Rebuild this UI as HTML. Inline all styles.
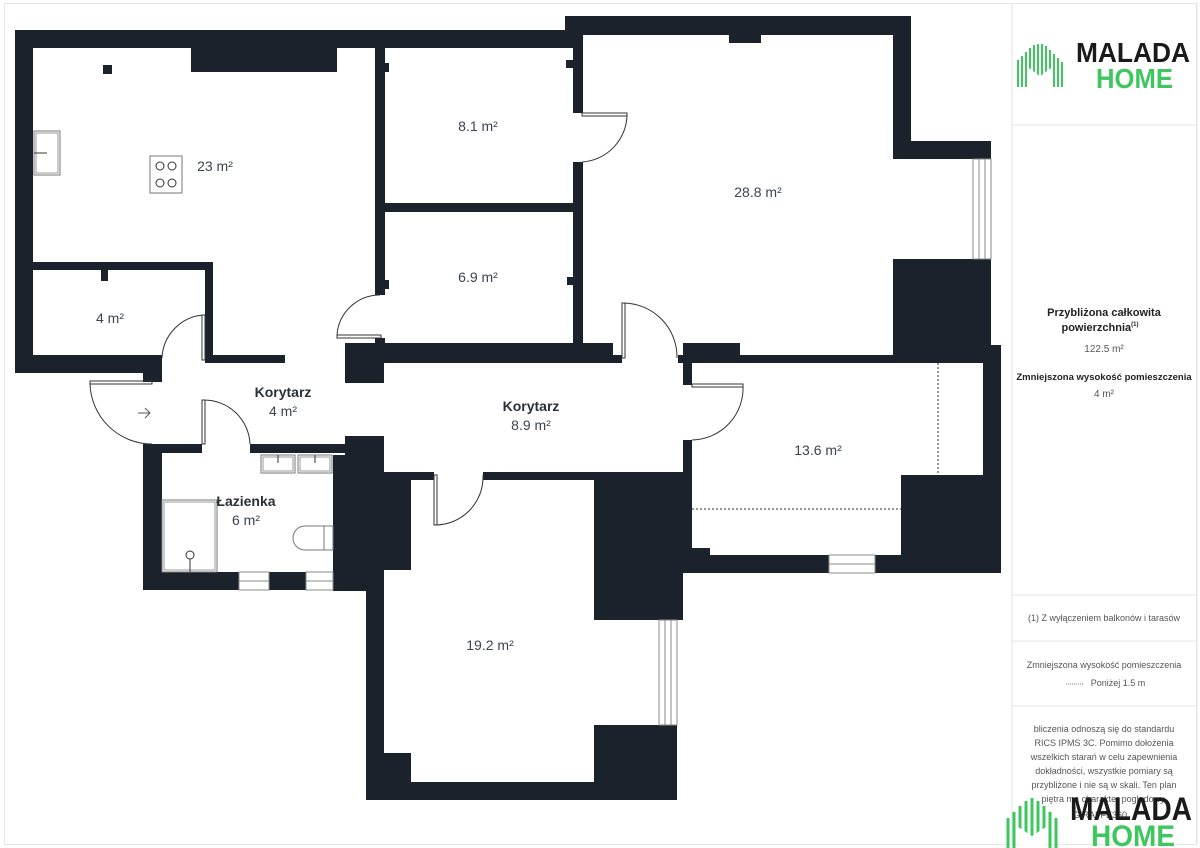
<!DOCTYPE html>
<html><head><meta charset="utf-8"><style>
body{margin:0;background:#fff;}
svg{display:block;}
text{font-family:"Liberation Sans",sans-serif;}
</style></head><body>
<svg width="1200" height="848" viewBox="0 0 1200 848" xmlns="http://www.w3.org/2000/svg">
<rect x="0" y="0" width="1200" height="848" fill="#fff"/>
<rect x="4.5" y="3.5" width="1192" height="841" fill="none" stroke="#e6e6e6"/>
<g fill="#1c222c">
<!-- kitchen -->
<rect x="15" y="30" width="565" height="18"/>
<rect x="15" y="30" width="18" height="343"/>
<rect x="15" y="355" width="147" height="18"/>
<rect x="143" y="355" width="19" height="27"/>
<rect x="191" y="48" width="146" height="24"/>
<rect x="103" y="65" width="9" height="9"/>
<rect x="15" y="262" width="198" height="8"/>
<rect x="205" y="262" width="8" height="101"/>
<rect x="205" y="355" width="80" height="8"/>
<rect x="101" y="270" width="7" height="11"/>
<!-- middle rooms -->
<rect x="375" y="48" width="10" height="247"/>
<rect x="385" y="63" width="4" height="9"/>
<rect x="385" y="280" width="4" height="9"/>
<rect x="375" y="203" width="207" height="9"/>
<rect x="565" y="16" width="346" height="19"/>
<rect x="565" y="16" width="18" height="32"/>
<rect x="573" y="48" width="10" height="65"/>
<rect x="566" y="60" width="8" height="8"/>
<rect x="573" y="162" width="10" height="183"/>
<rect x="567" y="277" width="7" height="8"/>
<rect x="729" y="35" width="32" height="8"/>
<rect x="893" y="16" width="18" height="143"/>
<rect x="893" y="141" width="98" height="18"/>
<rect x="893" y="259" width="98" height="104"/>
<!-- corridor top -->
<rect x="375" y="338" width="10" height="10"/>
<rect x="345" y="343" width="268" height="20"/>
<rect x="345" y="343" width="39" height="40"/>
<rect x="613" y="355" width="9" height="8"/>
<rect x="683" y="343" width="57" height="20"/>
<rect x="678" y="355" width="14" height="8"/>
<rect x="740" y="355" width="261" height="8"/>
<rect x="983" y="345" width="18" height="228"/>
<rect x="683" y="363" width="9" height="22"/>
<rect x="683" y="440" width="9" height="115"/>
<rect x="901" y="475" width="100" height="98"/>
<rect x="683" y="555" width="146" height="18"/>
<rect x="875" y="555" width="126" height="18"/>
<rect x="683" y="548" width="27" height="8"/>
<!-- bathroom -->
<rect x="143" y="444" width="59" height="9"/>
<rect x="250" y="444" width="95" height="9"/>
<rect x="143" y="444" width="19" height="146"/>
<rect x="143" y="572" width="96" height="18"/>
<rect x="269" y="572" width="37" height="18"/>
<rect x="333" y="455" width="51" height="136"/>
<rect x="345" y="436" width="39" height="20"/>
<!-- 19.2 -->
<rect x="384" y="472" width="50" height="8"/>
<rect x="483" y="472" width="200" height="8"/>
<rect x="384" y="472" width="27" height="98"/>
<rect x="366" y="580" width="18" height="220"/>
<rect x="366" y="782" width="311" height="18"/>
<rect x="384" y="753" width="27" height="30"/>
<rect x="594" y="472" width="89" height="148"/>
<rect x="594" y="725" width="83" height="75"/>
</g>
<!-- windows -->
<g fill="none" stroke="#888" stroke-width="1">
<rect x="973" y="159" width="18" height="100"/><line x1="979" y1="159" x2="979" y2="259"/><line x1="985" y1="159" x2="985" y2="259"/>
<rect x="659" y="620" width="18" height="105"/><line x1="665" y1="620" x2="665" y2="725"/><line x1="671" y1="620" x2="671" y2="725"/>
<rect x="829" y="555" width="46" height="18"/><line x1="829" y1="564" x2="875" y2="564"/>
<rect x="239" y="572" width="30" height="18"/><line x1="239" y1="581" x2="269" y2="581"/>
<rect x="306" y="572" width="27" height="18"/><line x1="306" y1="581" x2="333" y2="581"/>
</g>
<!-- doors -->
<g fill="none" stroke="#333" stroke-width="1">
<rect x="90" y="381" width="62" height="3"/><path d="M90 383 A62 62 0 0 0 152 444"/>
<rect x="202" y="315" width="3" height="45"/><path d="M203 315 A45 45 0 0 0 162 358"/>
<rect x="202" y="400" width="3" height="44"/><path d="M204 400 A46 46 0 0 1 250 444"/>
<rect x="337" y="335" width="44" height="3"/><path d="M337 335 A43 43 0 0 1 380 295"/>
<rect x="582" y="113" width="45" height="3"/><path d="M627 114 A48 48 0 0 1 582 162"/>
<rect x="622" y="303" width="3" height="55"/><path d="M624 303 A54 54 0 0 1 677 358"/>
<rect x="692" y="384" width="51" height="3"/><path d="M743 385 A52 52 0 0 1 692 440"/>
<rect x="434" y="475" width="3" height="50"/><path d="M435 525 A48 48 0 0 0 483 475"/>
<path d="M138 413 H150 M145 408 L150 413 L145 418" stroke="#555"/>
<!-- fixtures -->
<rect x="34" y="131" width="26" height="44" stroke="#777"/><rect x="36" y="133" width="22" height="40" stroke="#999"/><line x1="34" y1="153" x2="47" y2="153"/>
<rect x="150" y="156" width="32" height="37" stroke="#777"/>
<circle cx="160" cy="166" r="4"/><circle cx="172" cy="166" r="4"/><circle cx="160" cy="183" r="4"/><circle cx="172" cy="183" r="4"/>
<rect x="261" y="455" width="34" height="18" stroke="#777"/><rect x="263" y="457" width="30" height="14" stroke="#999"/><line x1="278" y1="455" x2="278" y2="463"/>
<rect x="298" y="455" width="34" height="18" stroke="#777"/><rect x="300" y="457" width="30" height="14" stroke="#999"/><line x1="315" y1="455" x2="315" y2="463"/>
<rect x="162" y="500" width="55" height="72" stroke="#777"/><rect x="164" y="502" width="51" height="68" stroke="#999"/>
<circle cx="190" cy="555" r="4"/><line x1="190" y1="559" x2="190" y2="572"/>
<path d="M324 526 H305 A12 12 0 0 0 305 550 H324 Z M324 526 H333 V550 H324" stroke="#777"/>
</g>
<g stroke="#333" stroke-width="1" stroke-dasharray="2,2">
<line x1="938" y1="363" x2="938" y2="475"/>
<line x1="692" y1="509" x2="901" y2="509"/>
</g>
<!-- labels -->
<g fill="#3c4350" font-size="14" text-anchor="middle">
<text x="215" y="171">23 m²</text>
<text x="478" y="131">8.1 m²</text>
<text x="478" y="282">6.9 m²</text>
<text x="758" y="197">28.8 m²</text>
<text x="110" y="323">4 m²</text>
<text x="283" y="416">4 m²</text>
<text x="531" y="430">8.9 m²</text>
<text x="818" y="455">13.6 m²</text>
<text x="246" y="525">6 m²</text>
<text x="490" y="650">19.2 m²</text>
</g>
<g fill="#2a303a" font-size="14" font-weight="bold" text-anchor="middle">
<text x="283" y="397">Korytarz</text>
<text x="531" y="411">Korytarz</text>
<text x="246" y="506">Łazienka</text>
</g>
<!-- right panel -->
<g stroke="#e3e3e3" fill="none">
<line x1="1012" y1="3" x2="1012" y2="844"/>
<line x1="1197" y1="3" x2="1197" y2="844"/>
<line x1="1012" y1="125" x2="1197" y2="125"/>
<line x1="1012" y1="595" x2="1197" y2="595"/>
<line x1="1012" y1="641" x2="1197" y2="641"/>
<line x1="1012" y1="706" x2="1197" y2="706"/>
</g>
<g id="logo">
<g stroke="#3ec75f" stroke-width="2">
<line x1="1018" y1="60" x2="1018" y2="87"/><line x1="1022" y1="56" x2="1022" y2="87"/><line x1="1026" y1="52" x2="1026" y2="87"/><line x1="1030" y1="48" x2="1030" y2="87"/><line x1="1034" y1="45" x2="1034" y2="87"/><line x1="1038" y1="44" x2="1038" y2="87"/><line x1="1042" y1="44" x2="1042" y2="87"/><line x1="1046" y1="46" x2="1046" y2="87"/><line x1="1050" y1="50" x2="1050" y2="87"/><line x1="1054" y1="54" x2="1054" y2="87"/><line x1="1058" y1="58" x2="1058" y2="87"/><line x1="1062" y1="62" x2="1062" y2="87"/>
</g>
<path d="M1029 87 V70 L1040 78 L1051 70 V87" fill="#fff" stroke="#fff" stroke-width="3"/>
<text x="1076" y="62" font-size="28" font-weight="bold" fill="#1a1a1a" textLength="114" lengthAdjust="spacingAndGlyphs">MALADA</text>
<text x="1096" y="88" font-size="28" font-weight="bold" fill="#3ec75f" textLength="77" lengthAdjust="spacingAndGlyphs">HOME</text>
</g>
<g font-size="10" fill="#555" text-anchor="middle">
<text x="1104" y="316" font-size="11" font-weight="bold" fill="#222">Przybliżona całkowita</text>
<text x="1100" y="331" font-size="11" font-weight="bold" fill="#222">powierzchnia<tspan font-size="6" dy="-5">(1)</tspan></text>
<text x="1104" y="352">122.5 m²</text>
<text x="1104" y="380" font-size="9.5" font-weight="bold" fill="#222">Zmniejszona wysokość pomieszczenia</text>
<text x="1104" y="397">4 m²</text>
<text x="1104" y="621" font-size="9">(1) Z wyłączeniem balkonów i tarasów</text>
<text x="1104" y="668" font-size="9">Zmniejszona wysokość pomieszczenia</text>
<text x="1118" y="686" font-size="9">Poniżej 1.5 m</text>
<line x1="1066" y1="684" x2="1084" y2="684" stroke="#777" stroke-dasharray="1,1"/>
<text x="1104" y="732" font-size="9">bliczenia odnoszą się do standardu</text>
<text x="1104" y="746" font-size="9">RICS IPMS 3C. Pomimo dołożenia</text>
<text x="1104" y="760" font-size="9">wszelkich starań w celu zapewnienia</text>
<text x="1104" y="774" font-size="9">dokładności, wszystkie pomiary są</text>
<text x="1104" y="788" font-size="9">przybliżone i nie są w skali. Ten plan</text>
<text x="1104" y="802" font-size="9">piętra ma charakter poglądowy.</text>
<text x="1100" y="818" font-size="9">GIRAFFE360</text>
</g>
<g>
<g stroke="#3ec75f" stroke-width="3">
<line x1="1008" y1="818" x2="1008" y2="848"/><line x1="1014" y1="812" x2="1014" y2="848"/><line x1="1020" y1="806" x2="1020" y2="848"/><line x1="1026" y1="801" x2="1026" y2="848"/><line x1="1032" y1="798" x2="1032" y2="848"/><line x1="1038" y1="801" x2="1038" y2="848"/><line x1="1044" y1="806" x2="1044" y2="848"/><line x1="1050" y1="812" x2="1050" y2="848"/><line x1="1056" y1="818" x2="1056" y2="848"/>
</g>
<path d="M1020 848 V830 L1032 838 L1044 830 V848" fill="#fff" stroke="#fff" stroke-width="3"/>
<text x="1070" y="820" font-size="32" font-weight="bold" fill="#1a1a1a" textLength="122" lengthAdjust="spacingAndGlyphs">MALADA</text>
<text x="1091" y="846" font-size="30" font-weight="bold" fill="#3ec75f" textLength="84" lengthAdjust="spacingAndGlyphs">HOME</text>
</g>
</svg>
</body></html>
